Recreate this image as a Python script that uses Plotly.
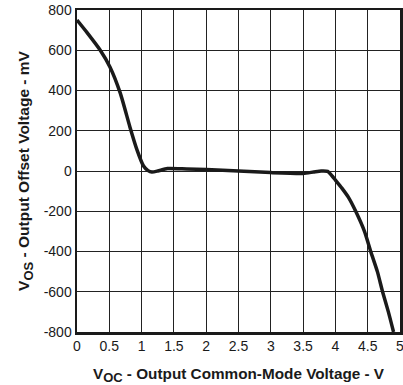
import plotly.graph_objects as go

vcm = [0.0, 0.15, 0.36, 0.51, 0.67, 0.82, 0.93, 1.03, 1.1, 1.16, 1.25, 1.4, 1.7, 2.0, 2.5, 3.0, 3.5, 3.66, 3.78, 3.88, 3.95, 4.0, 4.1, 4.2, 4.32, 4.45, 4.55, 4.65, 4.73, 4.82, 4.9]
vos = [750, 690, 600, 517, 387, 218, 104, 25, 2, -5, 0, 12, 10, 8, 0, -8, -12, -5, 0, -2, -25, -45, -85, -130, -204, -300, -403, -500, -600, -700, -800]

xticks = [0, 0.5, 1, 1.5, 2, 2.5, 3, 3.5, 4, 4.5, 5]
xticklabels = ["0", "0.5", "1", "1.5", "2", "2.5", "3", "3.5", "4", "4.5", "5"]
yticks = [-800, -600, -400, -200, 0, 200, 400, 600, 800]
yticklabels = ["-800", "-600", "-400", "-200", "0", "200", "400", "600", "800"]

fig = go.Figure()
fig.add_trace(go.Scatter(x=vcm, y=vos, mode="lines", line=dict(color="#1a1a1a", width=3.5, shape="spline", smoothing=0.6), showlegend=False, hoverinfo="skip"))

font = "Liberation Sans, Arial, sans-serif"
sub = '<span style="font-size:13px">'
fig.update_layout(
    width=403, height=385,
    margin=dict(l=77, r=3, t=10, b=53),
    paper_bgcolor="white", plot_bgcolor="white",
    font=dict(family=font, color="#1a1a1a", size=14),
    xaxis=dict(range=[0, 5], tickvals=xticks, ticktext=xticklabels, showgrid=True, gridcolor="#222222", gridwidth=1,
               showline=True, linecolor="#1a1a1a", linewidth=2.5, mirror=True, ticks="", zeroline=False, automargin=False,
               ticklabeloverflow="allow",
               title=dict(text="<b>V<sub>" + sub + "OC</span></sub> - Output Common-Mode Voltage - V</b>", font=dict(size=15.3, family=font), standoff=16)),
    yaxis=dict(range=[-800, 800], tickvals=yticks, ticktext=yticklabels, showgrid=True, gridcolor="#222222", gridwidth=1,
               showline=True, linecolor="#1a1a1a", linewidth=2.5, mirror=True, ticks="", zeroline=False, automargin=False,
               title=dict(text="<b>V<sub>" + sub + "OS</span></sub> - Output Offset Voltage - mV</b>", font=dict(size=15.5, family=font), standoff=10)),
)
fig.write_html("out.html", config={"displayModeBar": False, "staticPlot": True},
               post_script="document.body.style.margin='0';document.body.style.overflow='hidden';")
